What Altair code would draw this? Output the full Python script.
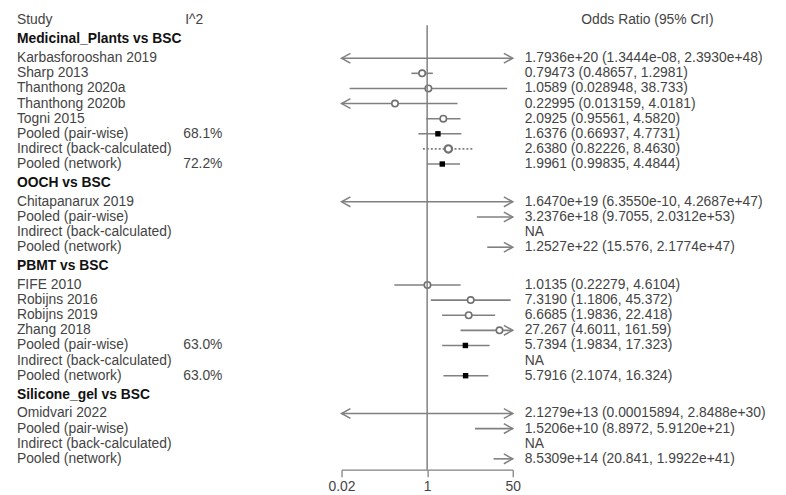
import altair as alt
import pandas as pd

# ---- data ----
groups = ["Medicinal_Plants vs BSC", "OOCH vs BSC", "PBMT vs BSC", "Silicone_gel vs BSC"]

labels = [
    ["Karbasforooshan 2019", "Sharp 2013", "Thanthong 2020a", "Thanthong 2020b", "Togni 2015",
     "Pooled (pair-wise)", "Indirect (back-calculated)", "Pooled (network)"],
    ["Chitapanarux 2019", "Pooled (pair-wise)", "Indirect (back-calculated)", "Pooled (network)"],
    ["FIFE 2010", "Robijns 2016", "Robijns 2019", "Zhang 2018",
     "Pooled (pair-wise)", "Indirect (back-calculated)", "Pooled (network)"],
    ["Omidvari 2022", "Pooled (pair-wise)", "Indirect (back-calculated)", "Pooled (network)"],
]
kinds = [
    ["study", "study", "study", "study", "study", "pw", "ind", "net"],
    ["study", "pw", "ind", "net"],
    ["study", "study", "study", "study", "pw", "ind", "net"],
    ["study", "pw", "ind", "net"],
]
est = [
    [1.7936e20, 0.79473, 1.0589, 0.22995, 2.0925, 1.6376, 2.6380, 1.9961],
    [1.6470e19, 3.2376e18, None, 1.2527e22],
    [1.0135, 7.3190, 6.6685, 27.267, 5.7394, None, 5.7916],
    [2.1279e13, 1.5206e10, None, 8.5309e14],
]
lower = [
    [1.3444e-08, 0.48657, 0.028948, 0.013159, 0.95561, 0.66937, 0.82226, 0.99835],
    [6.3550e-10, 9.7055, None, 15.576],
    [0.22279, 1.1806, 1.9836, 4.6011, 1.9834, None, 2.1074],
    [0.00015894, 8.8972, None, 20.841],
]
upper = [
    [2.3930e48, 1.2981, 38.733, 4.0181, 4.5820, 4.7731, 8.4630, 4.4844],
    [4.2687e47, 2.0312e53, None, 2.1774e47],
    [4.6104, 45.372, 22.418, 161.59, 17.323, None, 16.324],
    [2.8488e30, 5.9120e21, None, 1.9922e41],
]
i2 = [
    ["", "", "", "", "", "68.1%", "", "72.2%"],
    ["", "", "", ""],
    ["", "", "", "", "63.0%", "", "63.0%"],
    ["", "", "", ""],
]
ci_text = [
    ["1.7936e+20 (1.3444e-08, 2.3930e+48)", "0.79473 (0.48657, 1.2981)", "1.0589 (0.028948, 38.733)",
     "0.22995 (0.013159, 4.0181)", "2.0925 (0.95561, 4.5820)", "1.6376 (0.66937, 4.7731)",
     "2.6380 (0.82226, 8.4630)", "1.9961 (0.99835, 4.4844)"],
    ["1.6470e+19 (6.3550e-10, 4.2687e+47)", "3.2376e+18 (9.7055, 2.0312e+53)", "NA",
     "1.2527e+22 (15.576, 2.1774e+47)"],
    ["1.0135 (0.22279, 4.6104)", "7.3190 (1.1806, 45.372)", "6.6685 (1.9836, 22.418)",
     "27.267 (4.6011, 161.59)", "5.7394 (1.9834, 17.323)", "NA", "5.7916 (2.1074, 16.324)"],
    ["2.1279e+13 (0.00015894, 2.8488e+30)", "1.5206e+10 (8.8972, 5.9120e+21)", "NA",
     "8.5309e+14 (20.841, 1.9922e+41)"],
]
x_ticks = [0.02, 1, 50]
XMIN, XMAX = 0.02, 50

# ---- build table ----
rows = []
pos = 0.0
for g, name in enumerate(groups):
    pos += 1.25
    rows.append(dict(label=name, kind="header", pos=pos))
    pos += 0.25
    for j in range(len(labels[g])):
        pos += 1.0
        e, lo, hi = est[g][j], lower[g][j], upper[g][j]
        r = dict(label=labels[g][j], kind=kinds[g][j], pos=pos, i2=i2[g][j], ci=ci_text[g][j])
        if lo is not None:
            r["lo_c"] = max(lo, XMIN)
            r["hi_c"] = min(hi, XMAX)
            r["larrow"] = lo < XMIN
            r["rarrow"] = hi > XMAX
            r["est_in"] = e if XMIN <= e <= XMAX else None
        rows.append(r)
df = pd.DataFrame(rows)

FONT = "Liberation Sans"
GREY = "#808080"
TXT = "#444444"

xscale = alt.Scale(type="log", domain=[XMIN, XMAX], range=[337, 510], nice=False)
yscale = alt.Scale(domain=[0, 29.0], range=[10, 453], nice=False, zero=False)
xaxis = alt.Axis(values=x_ticks, format="~g", title=None, grid=False, domainColor=GREY,
                 tickColor=GREY, domainWidth=1.3, tickWidth=1.3, tickSize=7,
                 labelFont=FONT, labelFontSize=14, labelColor=TXT, labelPadding=3,
                 labelFlush=False, labelOverlap=False)

def X(field):
    return alt.X(field, type="quantitative", scale=xscale, axis=xaxis)

Y = alt.Y("pos:Q", scale=yscale, axis=None)

base = alt.Chart(df)

ref_line = alt.Chart(pd.DataFrame({"v": [1]})).mark_rule(color=GREY, strokeWidth=1.5).encode(
    x=X("v"), y=alt.value(15), y2=alt.value(464))

ci_solid = base.transform_filter("isValid(datum.lo_c) && datum.kind != 'ind'").mark_rule(
    color=GREY, strokeWidth=1.6).encode(x=X("lo_c"), x2="hi_c", y=Y)
ci_dot = base.transform_filter("isValid(datum.lo_c) && datum.kind == 'ind'").mark_rule(
    color=GREY, strokeWidth=1.6, strokeDash=[2, 2]).encode(x=X("lo_c"), x2="hi_c", y=Y)

right_arrow = base.transform_filter("datum.rarrow == true").mark_point(
    shape="M-1,-0.55L0,0L-1,0.55", filled=False, color=GREY, strokeWidth=1.5, size=324,
    opacity=1).encode(x=X("hi_c"), y=Y)
left_arrow = base.transform_filter("datum.larrow == true").mark_point(
    shape="M1,-0.55L0,0L1,0.55", filled=False, color=GREY, strokeWidth=1.5, size=324,
    opacity=1).encode(x=X("lo_c"), y=Y)

study_pts = base.transform_filter("isValid(datum.est_in) && datum.kind == 'study'").mark_circle(
    color="white", opacity=1, stroke="#707070", strokeWidth=1.6, size=42).encode(x=X("est_in"), y=Y)
ind_pts = base.transform_filter("isValid(datum.est_in) && datum.kind == 'ind'").mark_circle(
    color="white", opacity=1, stroke="#707070", strokeWidth=2.2, size=55).encode(x=X("est_in"), y=Y)
pool_pts = base.transform_filter(
    "isValid(datum.est_in) && (datum.kind == 'pw' || datum.kind == 'net')").mark_square(
    color="black", opacity=1, size=30).encode(x=X("est_in"), y=Y)

hdr_df = pd.DataFrame({"pos": [0.0]})
study_hdr = alt.Chart(hdr_df).mark_text(text="Study", align="left", baseline="middle",
    font=FONT, fontSize=14, color=TXT).encode(x=alt.value(9), y=Y)
i2_hdr = alt.Chart(hdr_df).mark_text(text="I^2", align="left", baseline="middle",
    font=FONT, fontSize=14, color=TXT).encode(x=alt.value(179), y=Y)
or_hdr = alt.Chart(hdr_df).mark_text(text="Odds Ratio (95% CrI)", align="center",
    baseline="middle", font=FONT, fontSize=14, color=TXT).encode(x=alt.value(646), y=Y)

grp_txt = base.transform_filter("datum.kind == 'header'").mark_text(
    align="left", baseline="middle", font=FONT, fontSize=14, fontWeight="bold",
    color="#111").encode(x=alt.value(9), y=Y, text="label:N")
row_txt = base.transform_filter("datum.kind != 'header'").mark_text(
    align="left", baseline="middle", font=FONT, fontSize=14, color=TXT).encode(
    x=alt.value(9), y=Y, text="label:N")
i2_txt = base.transform_filter("datum.kind != 'header'").mark_text(
    align="left", baseline="middle", font=FONT, fontSize=14, color=TXT).encode(
    x=alt.value(177), y=Y, text="i2:N")
ci_txt = base.transform_filter("datum.kind != 'header'").mark_text(
    align="left", baseline="middle", font=FONT, fontSize=14, color=TXT).encode(
    x=alt.value(522), y=Y, text="ci:N")

chart = alt.layer(
    ci_solid, ci_dot, right_arrow, left_arrow, study_pts, ind_pts, ref_line, pool_pts,
    study_hdr, i2_hdr, or_hdr, grp_txt, row_txt, i2_txt, ci_txt,
).properties(
    width=778, height=464,
    autosize=alt.AutoSizeParams(type="none"),
    padding={"left": 0, "top": 0, "right": 0, "bottom": 23},
    background="white",
).configure_view(stroke=None)

chart.save("out.html", embed_options={"renderer": "svg", "actions": False})
